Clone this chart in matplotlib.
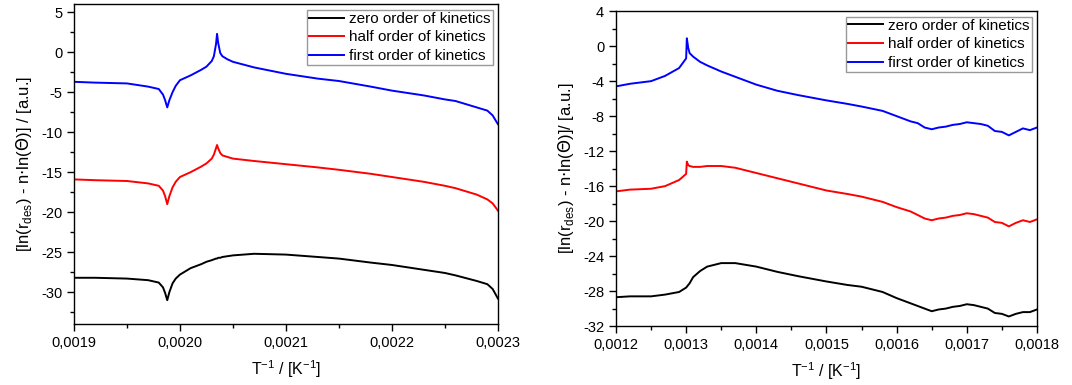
import numpy as np
import matplotlib
matplotlib.use("Agg")
from matplotlib import pyplot as plt
from matplotlib.ticker import MultipleLocator, FuncFormatter

plt.rcParams['font.family'] = ['Liberation Sans', 'DejaVu Sans']

# left panel data
x_left = [0.00190, 0.00192, 0.00195, 0.00197, 0.00198, 0.001984, 0.001986, 0.001988,
          0.001990, 0.001993, 0.001996, 0.00200, 0.00201, 0.00202, 0.002025, 0.00203,
          0.002032, 0.002034, 0.002035, 0.002036, 0.002038, 0.00204, 0.002045, 0.00205,
          0.00207, 0.00210, 0.00213, 0.00215, 0.00218, 0.00220, 0.00223, 0.00225,
          0.00226, 0.00228, 0.00229, 0.002295, 0.00230]
blue_left = [-3.7, -3.8, -3.9, -4.3, -4.6, -5.3, -6.0, -6.9, -6.0, -5.0, -4.2, -3.5, -2.9,
             -2.2, -1.8, -1.1, -0.5, 1.0, 2.3, 1.2, -0.1, -0.5, -0.9, -1.2, -1.9, -2.7,
             -3.3, -3.6, -4.3, -4.8, -5.4, -5.9, -6.1, -6.9, -7.3, -7.9, -9.0]
red_left = [-15.9, -16.0, -16.1, -16.4, -16.7, -17.3, -18.0, -19.0, -18.0, -16.9, -16.2,
            -15.6, -15.0, -14.3, -13.9, -13.3, -12.8, -12.0, -11.6, -12.0, -12.6, -12.9,
            -13.1, -13.3, -13.6, -14.0, -14.4, -14.7, -15.2, -15.6, -16.2, -16.7, -17.0,
            -17.8, -18.4, -18.9, -19.8]
black_left = [-28.2, -28.2, -28.3, -28.5, -28.8, -29.4, -30.1, -31.0, -30.0, -28.9, -28.3,
              -27.8, -27.0, -26.5, -26.2, -26.0, -25.9, -25.8, -25.8, -25.7, -25.7, -25.6,
              -25.5, -25.4, -25.2, -25.3, -25.6, -25.8, -26.3, -26.6, -27.2, -27.6, -27.9,
              -28.6, -29.0, -29.6, -30.8]

# right panel data
x_right = [0.00120, 0.00122, 0.00125, 0.00127, 0.00129, 0.00130, 0.001301, 0.001303,
           0.001305, 0.00131, 0.00132, 0.00133, 0.00135, 0.00137, 0.00140, 0.00143,
           0.00146, 0.00150, 0.00153, 0.00155, 0.00158, 0.00160, 0.00162, 0.00163,
           0.00164, 0.00165, 0.00166, 0.00167, 0.00168, 0.00169, 0.00170, 0.00171,
           0.00172, 0.00173, 0.00174, 0.00175, 0.00176, 0.00177, 0.00178, 0.00179,
           0.00180]
blue_right = [-4.6, -4.3, -4.0, -3.4, -2.5, -1.4, 0.9, -0.2, -0.8, -1.2, -1.8, -2.2, -2.9,
              -3.5, -4.4, -5.1, -5.6, -6.2, -6.6, -6.9, -7.4, -8.0, -8.6, -8.8, -9.3,
              -9.5, -9.3, -9.2, -9.0, -8.9, -8.7, -8.8, -8.9, -9.1, -9.7, -9.8, -10.2,
              -9.8, -9.4, -9.6, -9.3]
red_right = [-16.6, -16.4, -16.3, -16.0, -15.3, -14.6, -13.2, -13.6, -13.7, -13.8, -13.8,
             -13.7, -13.7, -13.9, -14.5, -15.1, -15.7, -16.5, -16.9, -17.2, -17.8, -18.4,
             -18.9, -19.3, -19.7, -19.9, -19.7, -19.6, -19.4, -19.3, -19.1, -19.2, -19.4,
             -19.6, -20.1, -20.2, -20.6, -20.2, -19.9, -20.1, -19.8]
black_right = [-28.7, -28.6, -28.6, -28.4, -28.1, -27.6, -27.5, -27.3, -27.1, -26.4, -25.7,
               -25.2, -24.8, -24.8, -25.2, -25.8, -26.3, -26.9, -27.3, -27.5, -28.1,
               -28.8, -29.4, -29.7, -30.0, -30.3, -30.1, -30.0, -29.8, -29.7, -29.5,
               -29.6, -29.8, -30.0, -30.5, -30.6, -30.9, -30.6, -30.4, -30.4, -30.1]

labels = ['zero order of kinetics', 'half order of kinetics', 'first order of kinetics']
colors = ['black', 'red', 'blue']

comma_fmt = FuncFormatter(lambda v, p: ('%.4f' % v).replace('.', ','))
int_fmt = FuncFormatter(lambda v, p: '%d' % v)

fig = plt.figure(figsize=(10.72, 3.85), dpi=100)
ax1 = fig.add_axes([0.069, 0.158, 0.3955, 0.831])
ax2 = fig.add_axes([0.5746, 0.153, 0.3927, 0.818])

panels = [
    (ax1, x_left, [black_left, red_left, blue_left], (0.0019, 0.0023), (-34, 6), 5, 2.5,
     '[ln(r$_{\\mathregular{des}}$) - n$\\cdot$ln($\\Theta$)] / [a.u.]'),
    (ax2, x_right, [black_right, red_right, blue_right], (0.0012, 0.0018), (-32, 4), 4, 2,
     '[ln(r$_{\\mathregular{des}}$) - n$\\cdot$ln($\\Theta$)]/ [a.u.]'),
]

for ax, xs, ys, xl, yl, ymaj, ymin, ylab in panels:
    for y, c, lab in zip(ys, colors, labels):
        ax.plot(xs, y, color=c, lw=1.4, label=lab)
    ax.set_xlim(*xl)
    ax.set_ylim(*yl)
    ax.xaxis.set_major_locator(MultipleLocator(0.0001))
    ax.xaxis.set_minor_locator(MultipleLocator(0.00005))
    ax.yaxis.set_major_locator(MultipleLocator(ymaj))
    ax.yaxis.set_minor_locator(MultipleLocator(ymin))
    ax.xaxis.set_major_formatter(comma_fmt)
    ax.yaxis.set_major_formatter(int_fmt)
    ax.tick_params(which='major', direction='out', length=5, width=1, labelsize=10.5)
    ax.tick_params(which='minor', direction='out', length=3, width=1)
    for s in ax.spines.values():
        s.set_linewidth(1.0)
    ax.set_xlabel('T$^{\\mathregular{-1}}$ / [K$^{\\mathregular{-1}}$]', fontsize=11.5, labelpad=6)
    ax.set_ylabel(ylab, fontsize=12, labelpad=5)
    leg = ax.legend(loc='upper right', fontsize=11, handlelength=2.3, borderpad=0.15,
                    labelspacing=0.3, handletextpad=0.3, borderaxespad=0.35,
                    fancybox=False, edgecolor='#999999', framealpha=1)
    leg.get_frame().set_linewidth(1.0)

plt.savefig('out.png', dpi=100)
